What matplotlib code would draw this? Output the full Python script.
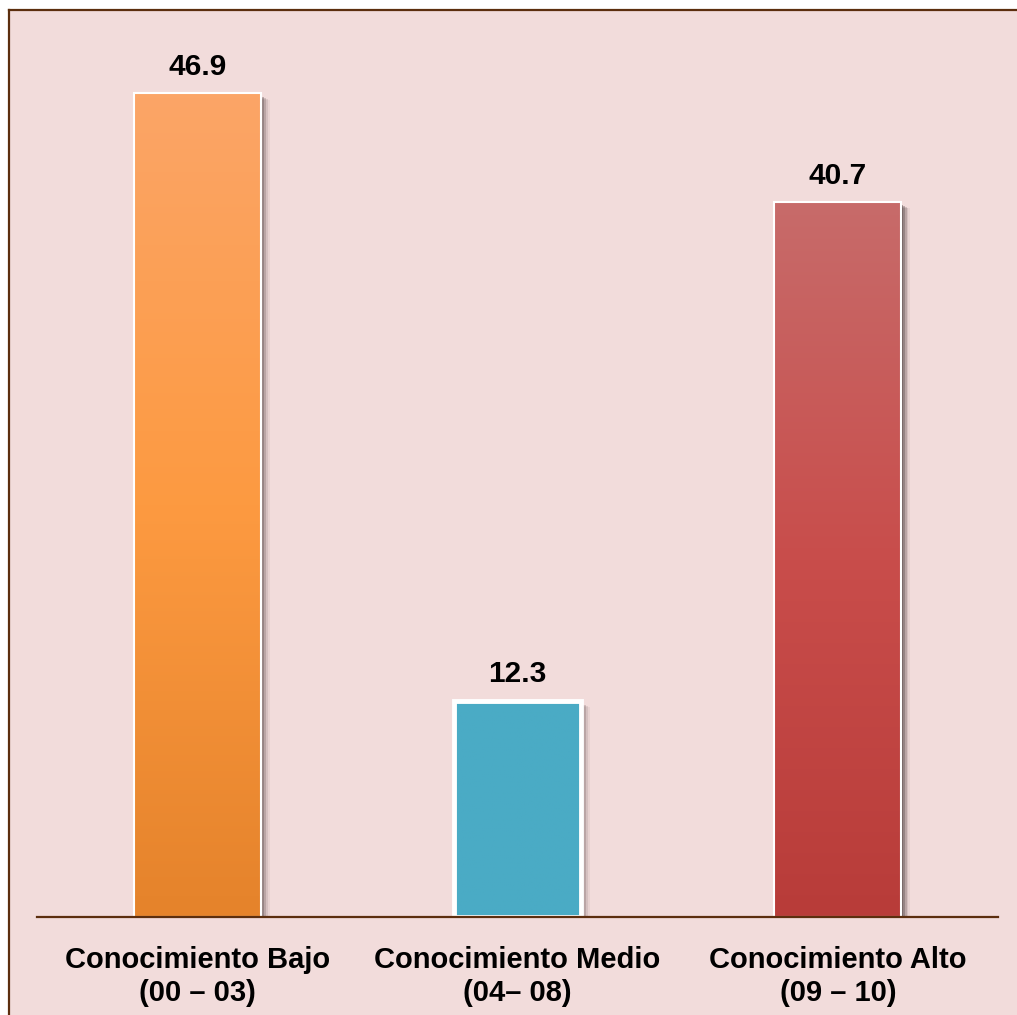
import numpy as np
import matplotlib.pyplot as plt
from matplotlib.colors import LinearSegmentedColormap
from matplotlib.patches import Rectangle
from matplotlib.lines import Line2D

plt.rcParams['font.family'] = ['Liberation Sans', 'DejaVu Sans']

# Data
categories = ['Conocimiento Bajo\n(00 – 03)', 'Conocimiento Medio\n(04– 08)', 'Conocimiento Alto\n(09 – 10)']
values = [46.9, 12.3, 40.7]
value_labels = ['46.9', '12.3', '40.7']

# colours: top, middle, bottom of each bar
bar_colors = [
    ['#fba567', '#fd9a41', '#e5832b'],
    ['#4aabc5', '#4aabc5', '#4aabc5'],
    ['#c76b6a', '#c94d4b', '#b83c39'],
]
edge_widths = [1.5, 3.5, 1.5]

bg = '#f2dcdb'
brown = '#5c2e0e'

W, H = 1017, 1015
fig = plt.figure(figsize=(W / 100, H / 100), dpi=100)
fig.patch.set_facecolor('white')

# pink panel with brown left/top border
fig.patches.append(Rectangle((9 / W, 0), 1, 1 - 10 / H, transform=fig.transFigure,
                             facecolor=bg, edgecolor='none', zorder=-2))
fig.add_artist(Line2D([9 / W, 9 / W], [0, 1 - 9.5 / H], transform=fig.transFigure,
                      color=brown, lw=1.6, zorder=-1))
fig.add_artist(Line2D([8.5 / W, 1], [1 - 9.5 / H, 1 - 9.5 / H], transform=fig.transFigure,
                      color=brown, lw=1.6, zorder=-1))

ax = fig.add_axes([37 / W, 98 / H, 961 / W, 878 / H])
ax.set_facecolor('none')
ax.set_xlim(-0.5, 2.5)
ax.set_ylim(0, 50)

width = 0.397
x = np.arange(len(values))
for i, v in enumerate(values):
    x0 = x[i] - width / 2
    # soft shadow on the right
    for k, a in enumerate([0.45, 0.32, 0.2, 0.12, 0.06]):
        off = 0.004 + k * 0.006
        ax.add_patch(Rectangle((x0 + off, 0), width, v - 0.15 - 0.05 * k, facecolor='#4e4040',
                               edgecolor='none', alpha=a, zorder=1))
    cmap = LinearSegmentedColormap.from_list('g%d' % i, bar_colors[i][::-1])
    grad = np.linspace(1, 0, 256).reshape(-1, 1)
    ax.imshow(grad, cmap=cmap, vmin=0, vmax=1, aspect='auto',
              extent=[x0, x0 + width, 0, v], zorder=2, interpolation='bilinear')
    ax.add_patch(Rectangle((x0, 0), width, v, facecolor='none', edgecolor='white',
                           lw=edge_widths[i], zorder=3))
    ax.text(x[i], v + 0.72, value_labels[i], ha='center', va='bottom',
            fontsize=21.5, fontweight='bold', color='black')

ax.set_xlim(-0.5, 2.5)
ax.set_ylim(0, 50)
ax.set_xticks(x)
ax.set_xticklabels(categories, fontsize=21, fontweight='bold', linespacing=1.22)
ax.tick_params(axis='x', length=0, pad=21)
ax.set_yticks([])
for s in ['top', 'right', 'left']:
    ax.spines[s].set_visible(False)
ax.spines['bottom'].set_color(brown)
ax.spines['bottom'].set_linewidth(1.6)
ax.spines['bottom'].set_zorder(4)

fig.savefig('out.png', dpi=100, facecolor=fig.get_facecolor())
